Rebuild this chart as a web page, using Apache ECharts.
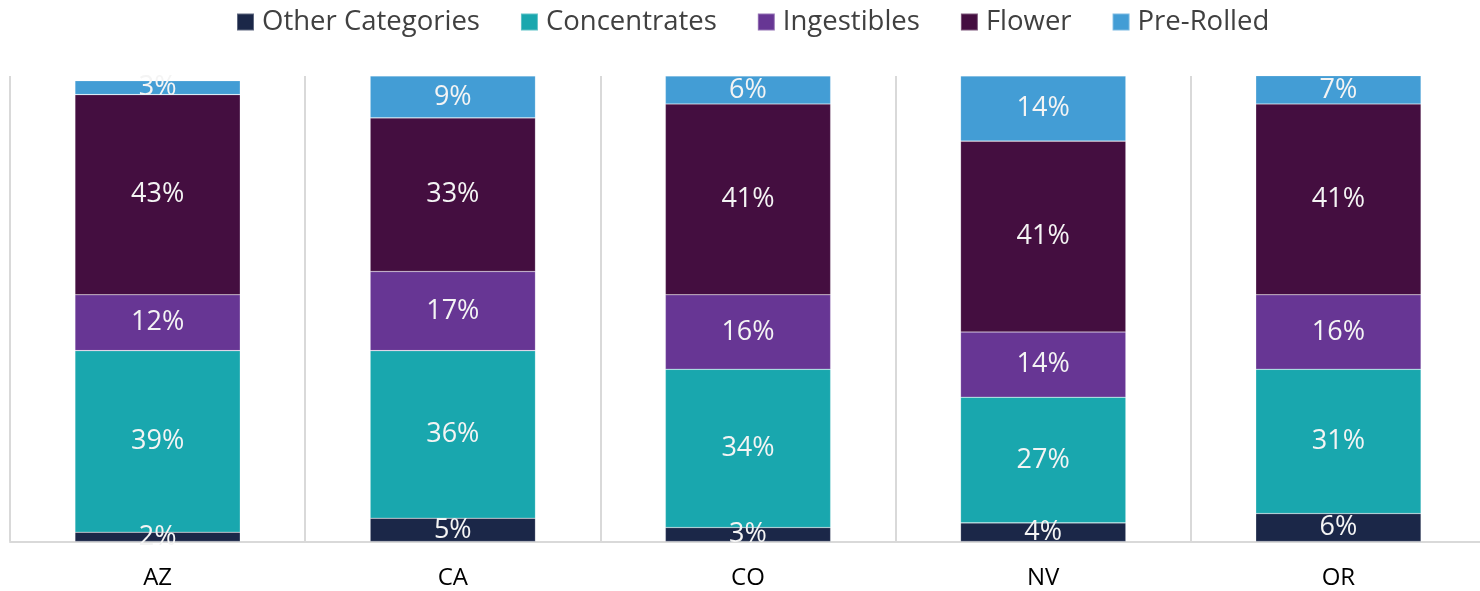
<!DOCTYPE html>
<html>
<head>
<meta charset="utf-8">
<style>
  html, body { margin: 0; padding: 0; background: #fff; }
  #chart { width: 1480px; height: 591px; }
</style>
<script src="https://cdn.jsdelivr.net/npm/echarts@6/dist/echarts.min.js"></script>
</head>
<body>
<div id="chart"></div>
<script>
// Product category share of sales by state (percent)
const states = ['AZ', 'CA', 'CO', 'NV', 'OR'];
const otherCategories = [2, 5, 3, 4, 6];
const concentrates = [39, 36, 34, 27, 31];
const ingestibles = [12, 17, 16, 14, 16];
const flower = [43, 33, 41, 41, 41];
const preRolled = [3, 9, 6, 14, 7];

const seriesDefs = [
  { name: 'Other Categories', data: otherCategories, color: '#1b2748' },
  { name: 'Concentrates', data: concentrates, color: '#19a7ae' },
  { name: 'Ingestibles', data: ingestibles, color: '#673694' },
  { name: 'Flower', data: flower, color: '#440e40' },
  { name: 'Pre-Rolled', data: preRolled, color: '#439dd5' }
];

const FONT = '"Open Sans", sans-serif';
const chart = echarts.init(document.getElementById('chart'), null, { renderer: 'canvas' });

chart.setOption({
  animation: false,
  textStyle: { fontFamily: FONT },
  legend: {
    top: 3,
    left: 231,
    itemWidth: 17,
    itemHeight: 17,
    itemGap: 40,
    icon: 'rect',
    textStyle: { fontSize: 27.5, color: '#404040', fontFamily: FONT, padding: [0, 0, 0, 3] },
    data: seriesDefs.map(s => s.name)
  },
  grid: {
    left: 10, top: 76, width: 1476, height: 465.5,
    containLabel: false, outerBoundsMode: 'none'
  },
  xAxis: {
    type: 'category',
    data: states,
    boundaryGap: true,
    axisLine: { show: true, lineStyle: { color: '#d9d9d9', width: 2 } },
    axisTick: { show: false },
    splitLine: { show: true, lineStyle: { color: '#d9d9d9', width: 2 } },
    axisLabel: { fontSize: 24, color: '#000', margin: 25, fontFamily: FONT }
  },
  yAxis: {
    type: 'value',
    min: 0,
    max: 100,
    show: false,
    splitLine: { show: false }
  },
  series: seriesDefs.map(s => ({
    name: s.name,
    type: 'bar',
    stack: 'share',
    barWidth: '56%',
    data: s.data,
    itemStyle: { color: s.color, borderColor: 'rgba(255,255,255,0.3)', borderWidth: 0.6 },
    label: {
      show: true,
      position: 'inside',
      formatter: p => p.value + '%',
      color: '#f4f4f4',
      fontSize: 27,
      fontFamily: FONT
    }
  }))
});
</script>
</body>
</html>
